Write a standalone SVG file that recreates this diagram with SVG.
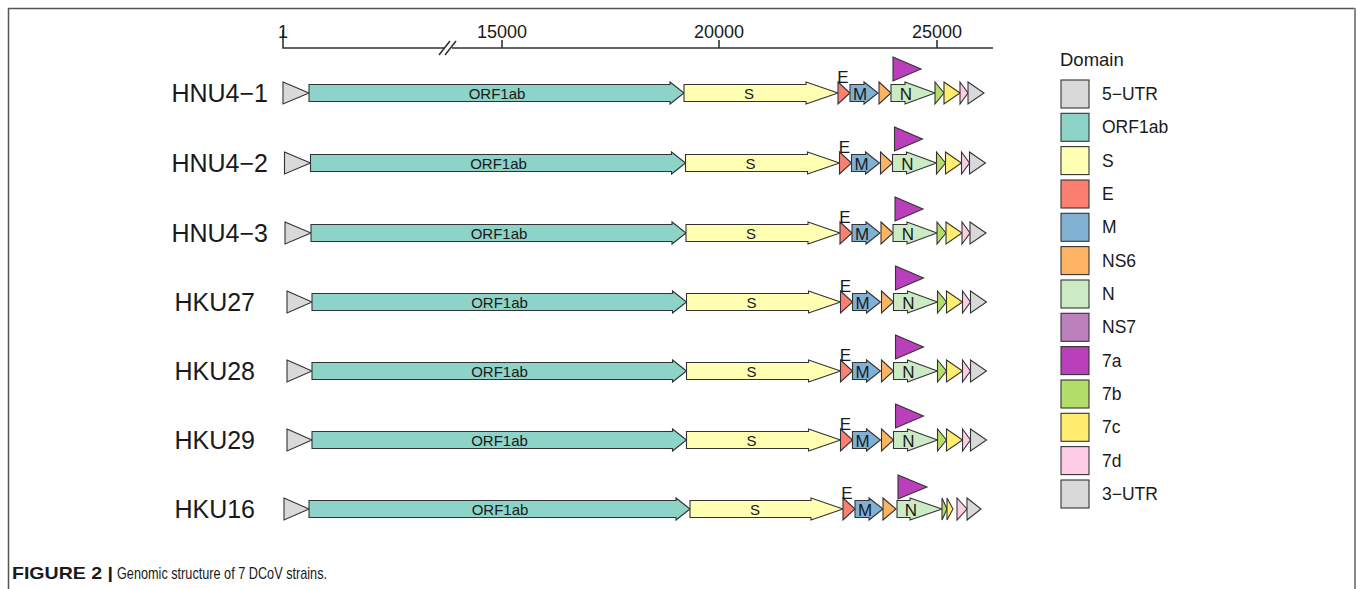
<svg xmlns="http://www.w3.org/2000/svg" width="1357" height="589" viewBox="0 0 1357 589">
<style>
text{font-family:"Liberation Sans",Arial,sans-serif;fill:#1a1a1a}
.g{stroke:#333;stroke-width:1.1;stroke-linejoin:miter}
.utr{fill:#D9D9D9}.orf{fill:#8DD3C7}.s{fill:#FFFFB3}.e{fill:#FB8072}.m{fill:#80B1D3}
.ns6{fill:#FDB462}.n{fill:#CCEBC5}.ns7{fill:#BC80BD}.a7{fill:#B93FBB}.b7{fill:#B3DE69}
.c7{fill:#FFED6F}.d7{fill:#FCCDE5}
.lab{font-size:15px;text-anchor:middle}
.elab{font-size:17px;text-anchor:middle}
.row{font-size:25px;text-anchor:end}
.leg{font-size:17.5px}
.ax{stroke:#333;stroke-width:1.6;fill:none}
</style>
<g id="frame" fill="none">
<path d="M8.5,589 V8.5 H1355" stroke="#555" stroke-width="1.5"/>
<path d="M1355,8 V589" stroke="#888" stroke-width="2"/>
</g>
<g id="axis">
<path class="ax" d="M283,30 V48 H445 M452,48 H993 M502,48 V40 M719,48 V40 M937,48 V40"/>
<path class="ax" d="M439,55 L450,41 M445,55 L456,41"/>
<text x="283" y="38" font-size="18" text-anchor="middle">1</text>
<text x="502" y="38" font-size="18" text-anchor="middle">15000</text>
<text x="719" y="38" font-size="18" text-anchor="middle">20000</text>
<text x="937" y="38" font-size="18" text-anchor="middle">25000</text>
</g>
<g id="labels">
<text class="row" x="268" y="102">HNU4−1</text>
<text class="row" x="268" y="172">HNU4−2</text>
<text class="row" x="268" y="242">HNU4−3</text>
<text class="row" x="255" y="311">HKU27</text>
<text class="row" x="255" y="380">HKU28</text>
<text class="row" x="255" y="449">HKU29</text>
<text class="row" x="255" y="518">HKU16</text>
</g>
<g id="row-HNU4-1" transform="translate(0,93)">
<polygon class="g utr" points="283,-11 309,0 283,11"/>
<polygon class="g orf" points="309,-8.5 670,-8.5 670,-11 684,0 670,11 670,8.5 309,8.5"/>
<polygon class="g s" points="684,-8.5 806,-8.5 806,-11 838,0 806,11 806,8.5 684,8.5"/>
<polygon class="g e" points="838,-11 850,0 838,11"/>
<polygon class="g m" points="850,-8.5 864,-8.5 864,-11 878,0 864,11 864,8.5 850,8.5"/>
<polygon class="g ns6" points="879,-11 891,0 879,11"/>
<polygon class="g n" points="891,-8.5 905,-8.5 905,-11 935,0 905,11 905,8.5 891,8.5"/>
<polygon class="g b7" points="935,-11 944,0 935,11"/>
<polygon class="g c7" points="944,-11 960,0 944,11"/>
<polygon class="g d7" points="960,-11 968,0 960,11"/>
<polygon class="g utr" points="968,-11 984,0 968,11"/>
<polygon class="g a7" points="893,-36 921,-24 893,-12"/>
<text class="lab" x="497" y="6">ORF1ab</text>
<text class="lab" x="749" y="6">S</text>
<text class="elab" x="843" y="-10">E</text>
<text class="elab" x="860" y="7">M</text>
<text class="elab" x="906" y="7">N</text>
</g>
<g id="row-HNU4-2" transform="translate(1.5,163)">
<polygon class="g utr" points="283,-11 309,0 283,11"/>
<polygon class="g orf" points="309,-8.5 670,-8.5 670,-11 684,0 670,11 670,8.5 309,8.5"/>
<polygon class="g s" points="684,-8.5 806,-8.5 806,-11 838,0 806,11 806,8.5 684,8.5"/>
<polygon class="g e" points="838,-11 850,0 838,11"/>
<polygon class="g m" points="850,-8.5 864,-8.5 864,-11 878,0 864,11 864,8.5 850,8.5"/>
<polygon class="g ns6" points="879,-11 891,0 879,11"/>
<polygon class="g n" points="891,-8.5 905,-8.5 905,-11 935,0 905,11 905,8.5 891,8.5"/>
<polygon class="g b7" points="935,-11 944,0 935,11"/>
<polygon class="g c7" points="944,-11 960,0 944,11"/>
<polygon class="g d7" points="960,-11 968,0 960,11"/>
<polygon class="g utr" points="968,-11 984,0 968,11"/>
<polygon class="g a7" points="893,-36 921,-24 893,-12"/>
<text class="lab" x="497" y="6">ORF1ab</text>
<text class="lab" x="749" y="6">S</text>
<text class="elab" x="843" y="-10">E</text>
<text class="elab" x="860" y="7">M</text>
<text class="elab" x="906" y="7">N</text>
</g>
<g id="row-HNU4-3" transform="translate(2,233)">
<polygon class="g utr" points="283,-11 309,0 283,11"/>
<polygon class="g orf" points="309,-8.5 670,-8.5 670,-11 684,0 670,11 670,8.5 309,8.5"/>
<polygon class="g s" points="684,-8.5 806,-8.5 806,-11 838,0 806,11 806,8.5 684,8.5"/>
<polygon class="g e" points="838,-11 850,0 838,11"/>
<polygon class="g m" points="850,-8.5 864,-8.5 864,-11 878,0 864,11 864,8.5 850,8.5"/>
<polygon class="g ns6" points="879,-11 891,0 879,11"/>
<polygon class="g n" points="891,-8.5 905,-8.5 905,-11 935,0 905,11 905,8.5 891,8.5"/>
<polygon class="g b7" points="935,-11 944,0 935,11"/>
<polygon class="g c7" points="944,-11 960,0 944,11"/>
<polygon class="g d7" points="960,-11 968,0 960,11"/>
<polygon class="g utr" points="968,-11 984,0 968,11"/>
<polygon class="g a7" points="893,-36 921,-24 893,-12"/>
<text class="lab" x="497" y="6">ORF1ab</text>
<text class="lab" x="749" y="6">S</text>
<text class="elab" x="843" y="-10">E</text>
<text class="elab" x="860" y="7">M</text>
<text class="elab" x="906" y="7">N</text>
</g>
<g id="row-HKU27" transform="translate(2.5,302)">
<polygon class="g utr" points="284.5,-11 309.5,0 284.5,11"/>
<polygon class="g orf" points="309.5,-8.5 670,-8.5 670,-11 684,0 670,11 670,8.5 309.5,8.5"/>
<polygon class="g s" points="684,-8.5 806,-8.5 806,-11 838,0 806,11 806,8.5 684,8.5"/>
<polygon class="g e" points="838,-11 850,0 838,11"/>
<polygon class="g m" points="850,-8.5 864,-8.5 864,-11 878,0 864,11 864,8.5 850,8.5"/>
<polygon class="g ns6" points="879,-11 891,0 879,11"/>
<polygon class="g n" points="891,-8.5 905,-8.5 905,-11 935,0 905,11 905,8.5 891,8.5"/>
<polygon class="g b7" points="935,-11 944,0 935,11"/>
<polygon class="g c7" points="944,-11 960,0 944,11"/>
<polygon class="g d7" points="960,-11 968,0 960,11"/>
<polygon class="g utr" points="968,-11 984,0 968,11"/>
<polygon class="g a7" points="893,-36 921,-24 893,-12"/>
<text class="lab" x="497" y="6">ORF1ab</text>
<text class="lab" x="749" y="6">S</text>
<text class="elab" x="843" y="-10">E</text>
<text class="elab" x="860" y="7">M</text>
<text class="elab" x="906" y="7">N</text>
</g>
<g id="row-HKU28" transform="translate(2.5,371)">
<polygon class="g utr" points="284.5,-11 309.5,0 284.5,11"/>
<polygon class="g orf" points="309.5,-8.5 670,-8.5 670,-11 684,0 670,11 670,8.5 309.5,8.5"/>
<polygon class="g s" points="684,-8.5 806,-8.5 806,-11 838,0 806,11 806,8.5 684,8.5"/>
<polygon class="g e" points="838,-11 850,0 838,11"/>
<polygon class="g m" points="850,-8.5 864,-8.5 864,-11 878,0 864,11 864,8.5 850,8.5"/>
<polygon class="g ns6" points="879,-11 891,0 879,11"/>
<polygon class="g n" points="891,-8.5 905,-8.5 905,-11 935,0 905,11 905,8.5 891,8.5"/>
<polygon class="g b7" points="935,-11 944,0 935,11"/>
<polygon class="g c7" points="944,-11 960,0 944,11"/>
<polygon class="g d7" points="960,-11 968,0 960,11"/>
<polygon class="g utr" points="968,-11 984,0 968,11"/>
<polygon class="g a7" points="893,-36 921,-24 893,-12"/>
<text class="lab" x="497" y="6">ORF1ab</text>
<text class="lab" x="749" y="6">S</text>
<text class="elab" x="843" y="-10">E</text>
<text class="elab" x="860" y="7">M</text>
<text class="elab" x="906" y="7">N</text>
</g>
<g id="row-HKU29" transform="translate(2.5,440)">
<polygon class="g utr" points="284.5,-11 309.5,0 284.5,11"/>
<polygon class="g orf" points="309.5,-8.5 670,-8.5 670,-11 684,0 670,11 670,8.5 309.5,8.5"/>
<polygon class="g s" points="684,-8.5 806,-8.5 806,-11 838,0 806,11 806,8.5 684,8.5"/>
<polygon class="g e" points="838,-11 850,0 838,11"/>
<polygon class="g m" points="850,-8.5 864,-8.5 864,-11 878,0 864,11 864,8.5 850,8.5"/>
<polygon class="g ns6" points="879,-11 891,0 879,11"/>
<polygon class="g n" points="891,-8.5 905,-8.5 905,-11 935,0 905,11 905,8.5 891,8.5"/>
<polygon class="g b7" points="935,-11 944,0 935,11"/>
<polygon class="g c7" points="944,-11 960,0 944,11"/>
<polygon class="g d7" points="960,-11 968,0 960,11"/>
<polygon class="g utr" points="968,-11 984,0 968,11"/>
<polygon class="g a7" points="893,-36 921,-24 893,-12"/>
<text class="lab" x="497" y="6">ORF1ab</text>
<text class="lab" x="749" y="6">S</text>
<text class="elab" x="843" y="-10">E</text>
<text class="elab" x="860" y="7">M</text>
<text class="elab" x="906" y="7">N</text>
</g>
<g id="row-HKU16" transform="translate(0,509)">
<polygon class="g utr" points="284,-11 309,0 284,11"/>
<polygon class="g orf" points="309,-8.5 676,-8.5 676,-11 690,0 676,11 676,8.5 309,8.5"/>
<polygon class="g s" points="690,-8.5 811,-8.5 811,-11 843,0 811,11 811,8.5 690,8.5"/>
<polygon class="g e" points="843,-11 855,0 843,11"/>
<polygon class="g m" points="855,-8.5 869,-8.5 869,-11 883,0 869,11 869,8.5 855,8.5"/>
<polygon class="g ns6" points="883,-11 896,0 883,11"/>
<polygon class="g n" points="897,-8.5 910,-8.5 910,-11 942,0 910,11 910,8.5 897,8.5"/>
<polygon class="g b7" points="942,-11 947,0 942,11"/>
<polygon class="g c7" points="947,-11 953,0 947,11"/>
<polygon class="g d7" points="957,-11 967,0 957,11"/>
<polygon class="g utr" points="967,-11 981,0 967,11"/>
<polygon class="g a7" points="898,-34 927,-22 898,-10"/>
<text class="lab" x="500" y="6">ORF1ab</text>
<text class="lab" x="755" y="6">S</text>
<text class="elab" x="847" y="-10">E</text>
<text class="elab" x="865" y="7">M</text>
<text class="elab" x="911" y="7">N</text>
</g>
<g id="legend">
<text x="1060" y="66" font-size="18.5">Domain</text>
<g class="g"><rect class="utr" x="1061" y="80" width="28" height="28"/><rect class="orf" x="1061" y="113.3" width="28" height="28"/><rect class="s" x="1061" y="146.6" width="28" height="28"/><rect class="e" x="1061" y="180" width="28" height="28"/><rect class="m" x="1061" y="213.3" width="28" height="28"/><rect class="ns6" x="1061" y="246.6" width="28" height="28"/><rect class="n" x="1061" y="280" width="28" height="28"/><rect class="ns7" x="1061" y="313.3" width="28" height="28"/><rect class="a7" x="1061" y="346.6" width="28" height="28"/><rect class="b7" x="1061" y="380" width="28" height="28"/><rect class="c7" x="1061" y="413.3" width="28" height="28"/><rect class="d7" x="1061" y="446.6" width="28" height="28"/><rect class="utr" x="1061" y="480" width="28" height="28"/></g>
<text class="leg" x="1102" y="100">5−UTR</text>
<text class="leg" x="1102" y="133.3">ORF1ab</text>
<text class="leg" x="1102" y="166.6">S</text>
<text class="leg" x="1102" y="200">E</text>
<text class="leg" x="1102" y="233.3">M</text>
<text class="leg" x="1102" y="266.6">NS6</text>
<text class="leg" x="1102" y="300">N</text>
<text class="leg" x="1102" y="333.3">NS7</text>
<text class="leg" x="1102" y="366.6">7a</text>
<text class="leg" x="1102" y="400">7b</text>
<text class="leg" x="1102" y="433.3">7c</text>
<text class="leg" x="1102" y="466.6">7d</text>
<text class="leg" x="1102" y="500">3−UTR</text>
</g>
<g id="caption">
<text x="12" y="579" font-size="17" font-weight="bold" fill="#222" textLength="101" lengthAdjust="spacingAndGlyphs">FIGURE 2 |</text>
<text x="117" y="579" font-size="17" fill="#333" textLength="210" lengthAdjust="spacingAndGlyphs">Genomic structure of 7 DCoV strains.</text>
</g>
</svg>
